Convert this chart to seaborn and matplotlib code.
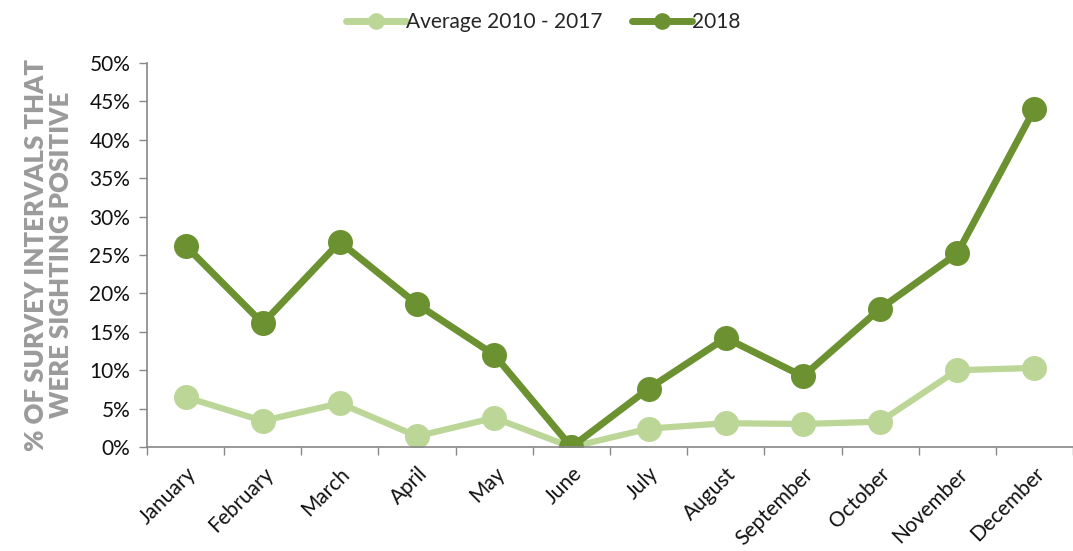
import matplotlib
matplotlib.use("Agg")
import matplotlib.pyplot as plt
import seaborn as sns
import pandas as pd
from matplotlib.ticker import FixedLocator, PercentFormatter
from matplotlib.lines import Line2D

months = ["January", "February", "March", "April", "May", "June", "July",
          "August", "September", "October", "November", "December"]
avg_2010_2017 = [6.5, 3.4, 5.7, 1.4, 3.8, 0.0, 2.4, 3.1, 3.0, 3.3, 10.0, 10.3]
y2018 = [26.2, 16.1, 26.7, 18.6, 12.0, 0.0, 7.6, 14.2, 9.2, 18.0, 25.2, 44.0]
series_names = ["Average 2010 - 2017", "2018"]
yticks = [0, 5, 10, 15, 20, 25, 30, 35, 40, 45, 50]

df = pd.DataFrame({
    "month": months * 2,
    "value": avg_2010_2017 + y2018,
    "series": [series_names[0]] * 12 + [series_names[1]] * 12,
})

sns.set_theme(style="white")
plt.rcParams["font.family"] = ["Lato", "DejaVu Sans"]

light = "#bcd697"
dark = "#6b9130"

fig = plt.figure(figsize=(10.73, 5.51), dpi=100)
ax = fig.add_axes([147 / 1073, 0.1887, 1 - 147 / 1073, 0.697])

sns.lineplot(data=df, x="month", y="value", hue="series",
             palette={series_names[0]: light, series_names[1]: dark},
             marker="o", markersize=18, markeredgewidth=0, linewidth=5,
             sort=False, ax=ax, legend=False)
ax.lines[0].set_linewidth(4.5)

ax.set_xlim(-0.5, (1073 - 147) / 77.9 - 0.5)
ax.set_ylim(0, 50)
ax.yaxis.set_major_locator(FixedLocator(yticks))
ax.yaxis.set_major_formatter(PercentFormatter(decimals=0))

ax.set_xticks(range(12))
ax.set_xticklabels(months, rotation=45, ha="right", rotation_mode="anchor")
ax.set_xticks([i - 0.5 for i in range(13)], minor=True)
ax.tick_params(axis="x", which="major", length=0, pad=12, labelsize=15, colors="#111111")
ax.tick_params(axis="x", which="minor", length=6, width=1, color="#888888", direction="out", bottom=True)
ax.tick_params(axis="y", which="major", length=6, width=1, color="#888888", direction="out",
               left=True, labelsize=15, colors="#111111", pad=6)

for s in ["top", "right"]:
    ax.spines[s].set_visible(False)
for s in ["left", "bottom"]:
    ax.spines[s].set_color("#888888")
    ax.spines[s].set_linewidth(1.2)

ax.set_xlabel("")
ax.set_ylabel("% OF SURVEY INTERVALS THAT\nWERE SIGHTING POSITIVE",
              fontsize=18.5, fontweight="heavy", color="#9b9b9b", linespacing=1.05,
              labelpad=12)

handles = [Line2D([0], [0], color=light, lw=5, marker="o", markersize=12, markeredgewidth=0),
           Line2D([0], [0], color=dark, lw=5, marker="o", markersize=12, markeredgewidth=0)]
fig.legend(handles, series_names, loc="upper center", bbox_to_anchor=(0.506, 1.012), ncol=2,
           frameon=False, fontsize=15, handlelength=2.9, handletextpad=0.0, columnspacing=1.4)

fig.savefig("out.png", dpi=100)
